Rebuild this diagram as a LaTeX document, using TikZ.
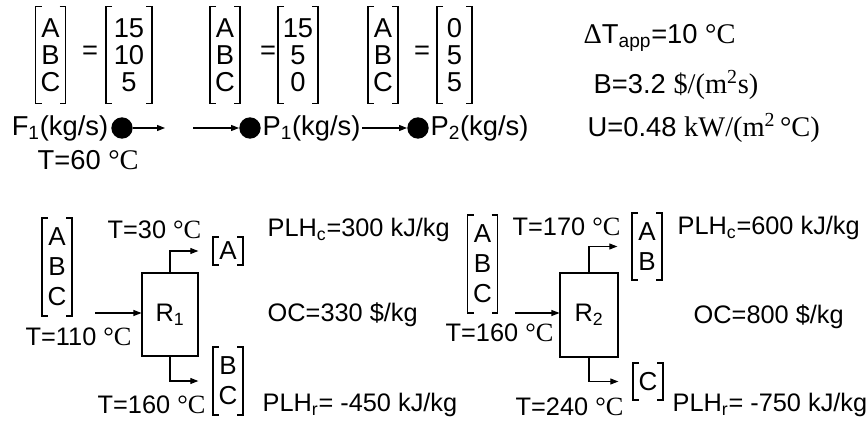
\documentclass[tikz,border=0pt]{standalone}
\usepackage{fontspec}
\setmainfont{Liberation Sans}
\newfontfamily\tms[Scale=1.04]{Liberation Serif}
\usetikzlibrary{arrows.meta,positioning,calc}

% square brackets round a node
\newcommand{\brk}[1]{%
  \draw[bk] ([xshift=4.5pt]#1.north west) -- (#1.north west) -- (#1.south west) -- ([xshift=4.5pt]#1.south west);
  \draw[bk] ([xshift=-4.5pt]#1.north east) -- (#1.north east) -- (#1.south east) -- ([xshift=-4.5pt]#1.south east);}
\newcommand{\uC}{\ {\tms °C}}

\begin{document}
\begin{tikzpicture}[x=0.75pt, y=-0.75pt,
    every node/.style={font=\fontsize{19}{22}\selectfont},
    big/.style={font=\fontsize{20.5}{22}\selectfont},
    vec/.style={align=center, inner sep=0pt, outer sep=0pt, minimum width=22.5pt, font=\fontsize{20.5}{20.25}\selectfont},
    tall/.style={vec, font=\fontsize{19.5}{22.5}\selectfont},
    dot/.style={circle, fill, inner sep=0pt, minimum size=16pt},
    reac/.style={draw, line width=0.8pt, inner sep=0pt},
    lbl/.style={anchor=west},
    arr/.style={-{Triangle[length=6pt,width=4.5pt]}, line width=0.8pt},
    bk/.style={line width=0.8pt}
]
\useasboundingbox (0,0) rectangle (868,424);

% compositions of the streams
\node[vec, minimum height=72.75pt] (m1) at (50.5,55) {A\\B\\C};
\node[big] (eq1) at (90,53) {=};
\node[vec, minimum height=72.75pt, minimum width=34.5pt] (v1) at (129,55) {15\\10\\5};
\node[vec, minimum height=72.75pt] (m2) at (225,55) {A\\B\\C};
\node[big] (eq2) at (268,53) {=};
\node[vec, minimum height=72.75pt, minimum width=30pt] (v2) at (298,55) {15\\5\\0};
\node[vec, minimum height=72.75pt] (m3) at (383,55) {A\\B\\C};
\node[big] (eq3) at (422,53) {=};
\node[vec, minimum height=72.75pt, minimum width=26.25pt] (v3) at (454.5,55) {0\\5\\5};
\foreach \n in {m1,v1,m2,v2,m3,v3} {\brk{\n}}

% feed and products
\node[dot] (f1) at (122,128) {};
\node[big, left=0pt of f1, inner sep=2pt] (f1txt) {F\textsubscript{1}(kg/s)};
\coordinate (f1end) at (165,128);
\coordinate (p1start) at (193,128);
\node[dot] (p1) at (250,128) {};
\node[big, right=0pt of p1, inner sep=1pt] (p1txt) {P\textsubscript{1}(kg/s)};
\node[dot] (p2) at (418,128) {};
\node[big, right=0pt of p2, inner sep=1pt] (p2txt) {P\textsubscript{2}(kg/s)};
\node[big, lbl] (tfeed) at (33,160) {T=60\uC};
\draw[arr] (f1) -- (f1end);
\draw[arr] (p1start) -- (p1);
\draw[arr] (p1txt) -- (p2);

% data
\node[big, lbl] (dtapp) at (579,38) {{\tms Δ}T\textsubscript{app}=10\uC};
\node[big, lbl] (bcost) at (589,85) {B=3.2 {\tms \$/(m\textsuperscript{2}s)}};
\node[big, lbl] (ucoef) at (583,128) {U=0.48 {\tms kW/(m\textsuperscript{2}\,°C)}};

% reactor 1
\node[tall, minimum height=73.5pt] (f2) at (57,267) {A\\B\\C};
\node[reac, minimum width=42pt, minimum height=62.25pt] (r1) at (170,314.5) {R\textsubscript{1}};
\node[tall, minimum height=21pt] (t1) at (228,251) {A};
\node[tall, minimum height=51pt] (b1) at (228,381) {B\\C};
\foreach \n in {f2,t1,b1} {\brk{\n}}
\coordinate (in1) at (95,313);
\draw[arr] (in1) -- (in1 -| r1.west);
\draw[arr] (r1.north) |- ([xshift=-11pt]t1.west);
\draw[arr] (r1.south) |- ([xshift=-11pt]b1.west);
\node[lbl] (tin1) at (21,337) {T=110\uC};
\node[lbl] (ttop1) at (103,230) {T=30\uC};
\node[lbl] (tbot1) at (93,405) {T=160\uC};
\node[lbl] (plhc1) at (263,230) {PLH\textsubscript{c}=300 kJ/kg};
\node[lbl] (oc1) at (263,315) {OC=330 \$/kg};
\node[lbl] (plhr1) at (258,405) {PLH\textsubscript{r}= -450 kJ/kg};

% reactor 2
\node[tall, minimum height=73.5pt] (f3) at (482.5,264) {A\\B\\C};
\node[reac, minimum width=43.5pt, minimum height=63pt] (r2) at (589,315) {R\textsubscript{2}};
\node[tall, minimum height=50.25pt] (t2) at (647,246.5) {A\\B};
\node[tall, minimum height=27.75pt] (b2) at (648,381.5) {C};
\foreach \n in {f3,t2,b2} {\brk{\n}}
\coordinate (in2) at (515,313);
\draw[arr] (in2) -- (in2 -| r2.west);
\draw[arr] (r2.north) |- ([xshift=-11pt]t2.west);
\draw[arr] (r2.south) |- ([xshift=-11pt]b2.west);
\node[lbl] (tin2) at (441,333) {T=160\uC};
\node[lbl] (ttop2) at (508,227) {T=170\uC};
\node[lbl] (tbot2) at (511,407) {T=240\uC};
\node[lbl] (plhc2) at (673,228) {PLH\textsubscript{c}=600 kJ/kg};
\node[lbl] (oc2) at (689,317) {OC=800 \$/kg};
\node[lbl] (plhr2) at (668,405) {PLH\textsubscript{r}= -750 kJ/kg};
\end{tikzpicture}
\end{document}
